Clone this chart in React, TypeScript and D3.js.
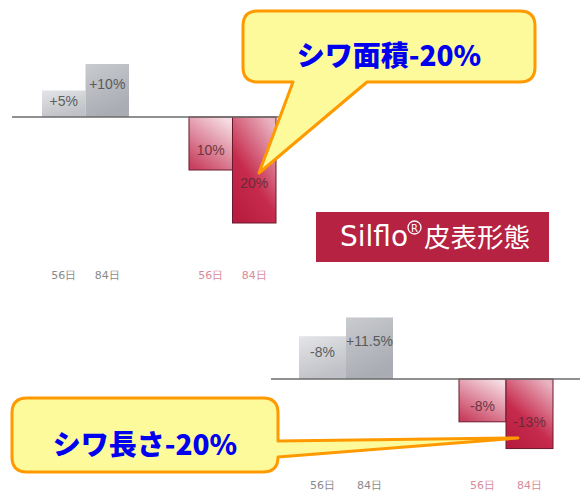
import React from "react";
import * as d3 from "d3";

const days = ["56日", "84日"];
const groups = ["before", "after"];

const topGray = [5, 10];
const topRed = [-10, -20];
const topGrayLabels = ["+5%", "+10%"];
const topRedLabels = ["10%", "20%"];

const botGray = [8, 11.5];
const botRed = [-8, -13];
const botGrayLabels = ["-8%", "+11.5%"];
const botRedLabels = ["-8%", "-13%"];

const topCallout = "シワ面積-20%";
const botCallout = "シワ長さ-20%";

type ChartProps = {
  gray: number[];
  red: number[];
  grayLabels: string[];
  redLabels: string[];
  x0: number;
  x1: number;
  pad: number;
  base: number;
  pxPer: number;
  lineX0: number;
  lineX1: number;
  labelY: number;
  id: string;
};

function Chart(p: ChartProps) {
  const outer = d3.scaleBand<string>().domain(groups).range([p.x0, p.x1]).paddingInner(p.pad).paddingOuter(0);
  const inner = d3.scaleBand<string>().domain(days).range([0, outer.bandwidth()]);
  const y = d3.scaleLinear().domain([0, 1]).range([p.base, p.base - p.pxPer]);
  const series = [
    { g: "before", vals: p.gray, labels: p.grayLabels, kind: "gray" },
    { g: "after", vals: p.red, labels: p.redLabels, kind: "red" },
  ];
  return (
    <g>
      <defs>
        <linearGradient id={`${p.id}-g0`} x1="0" y1="0" x2="0.4" y2="1">
          <stop offset="0" stopColor="#e4e5e8" />
          <stop offset="1" stopColor="#bfc1c6" />
        </linearGradient>
        <linearGradient id={`${p.id}-g1`} x1="0" y1="0" x2="0.4" y2="1">
          <stop offset="0" stopColor="#c9cbd0" />
          <stop offset="1" stopColor="#a9acb2" />
        </linearGradient>
        <linearGradient id={`${p.id}-r0`} x1="0.8" y1="0" x2="0.2" y2="1">
          <stop offset="0" stopColor="#f6dde4" />
          <stop offset="1" stopColor="#c8405f" />
        </linearGradient>
        <linearGradient id={`${p.id}-r1`} x1="0.8" y1="0" x2="0.2" y2="1">
          <stop offset="0" stopColor="#e9b3c1" />
          <stop offset="0.6" stopColor="#c62a4c" />
          <stop offset="1" stopColor="#b81d3f" />
        </linearGradient>
      </defs>
      {series.map((s) =>
        s.vals.map((v, i) => {
          const bx = (outer(s.g) as number) + (inner(days[i]) as number);
          const bw = inner.bandwidth();
          const yTop = Math.min(y(v), y(0));
          const h = Math.abs(y(v) - y(0));
          const fill = s.kind === "gray" ? `url(#${p.id}-g${i})` : `url(#${p.id}-r${i})`;
          return (
            <g key={s.g + i}>
              <rect
                x={bx}
                y={yTop}
                width={bw}
                height={h}
                fill={fill}
                stroke={s.kind === "red" ? "#6a1a2c" : "none"}
                strokeWidth={s.kind === "red" ? 1 : 0}
              />
              <text
                x={bx + bw / 2}
                y={y(v * p.labelY) + 5}
                textAnchor="middle"
                fontFamily="Liberation Sans, Arial, sans-serif"
                fontSize={14}
                fill={s.kind === "red" ? "#5a2a34" : "#4a4a4a"}
                opacity={0.85}
              >
                {s.labels[i]}
              </text>
              <text
                x={bx + bw / 2}
                y={p.base + (p.id === "top" ? 162 : 110)}
                textAnchor="middle"
                fontFamily="DejaVu Sans, sans-serif"
                fontSize={11}
                fill={s.kind === "red" ? "#d88a9a" : "#8a8a8a"}
              >
                {days[i]}
              </text>
            </g>
          );
        })
      )}
      <line x1={p.lineX0} x2={p.lineX1} y1={p.base} y2={p.base} stroke="#6b6b6b" strokeWidth={1.5} />
    </g>
  );
}

export default function App() {
  const calloutFont = "'Noto Sans CJK JP', sans-serif";
  return (
    <svg width={588} height={498} style={{ position: "absolute", left: 0, top: 0, background: "#fff" }}>
      <Chart
        id="top"
        gray={topGray}
        red={topRed}
        grayLabels={topGrayLabels}
        redLabels={topRedLabels}
        x0={42}
        x1={276}
        pad={0.408}
        base={117}
        pxPer={5.3}
        lineX0={12}
        lineX1={280}
        labelY={0.62}
      />
      <Chart
        id="bot"
        gray={botGray}
        red={botRed}
        grayLabels={botGrayLabels}
        redLabels={botRedLabels}
        x0={299}
        x1={553}
        pad={0.4125}
        base={379}
        pxPer={5.35}
        lineX0={271}
        lineX1={580}
        labelY={0.62}
      />

      <rect x={316} y={212} width={233} height={50} fill="#b52242" />
      <text x={340} y={246} fill="#fff" fontFamily="'DejaVu Sans', sans-serif" fontSize={28}>
        Silflo
      </text>
      <circle cx={414.5} cy={227.5} r={6.5} fill="none" stroke="#fff" strokeWidth={1.3} />
      <text x={414.5} y={231.5} textAnchor="middle" fill="#fff" fontFamily="'DejaVu Sans', sans-serif" fontSize={10}>
        R
      </text>
      <text x={424} y={247} fill="#fff" fontFamily="'Noto Sans CJK JP', sans-serif" fontSize={26.5}>
        皮表形態
      </text>

      <path
        d="M 258,11 H 520 Q 535,11 535,26 V 67 Q 535,82 520,82 H 367 L 259,173 L 293,82 H 258 Q 243,82 243,67 V 26 Q 243,11 258,11 Z"
        fill="#fdfa9c"
        stroke="#ff9900"
        strokeWidth={3}
        strokeLinejoin="round"
      />
      <text x={389} y={66} textAnchor="middle" fill="#0000ee" fontFamily={calloutFont} fontWeight={900} fontSize={28}>
        {topCallout}
      </text>

      <path
        d="M 27,398 H 263 Q 278,398 278,413 V 441 L 518,438 L 278,457 Q 278,472 263,472 H 27 Q 12,472 12,457 V 413 Q 12,398 27,398 Z"
        fill="#fdfa9c"
        stroke="#ff9900"
        strokeWidth={3}
        strokeLinejoin="round"
      />
      <text x={145} y={455} textAnchor="middle" fill="#0000ee" fontFamily={calloutFont} fontWeight={900} fontSize={28}>
        {botCallout}
      </text>
    </svg>
  );
}
